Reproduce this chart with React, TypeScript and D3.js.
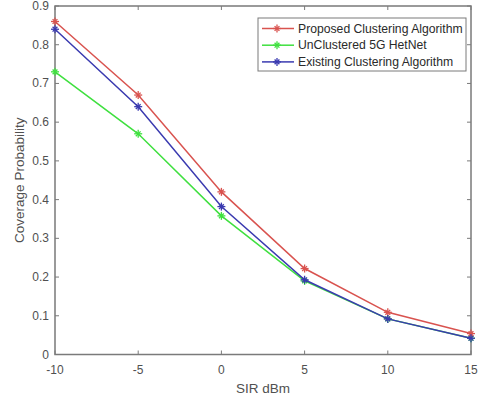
import React, { useRef, useEffect } from 'react';
import * as d3 from 'd3';

const sir = [-10, -5, 0, 5, 10, 15];
const proposed = [0.86, 0.67, 0.42, 0.222, 0.109, 0.054];
const unclustered = [0.73, 0.57, 0.358, 0.19, 0.092, 0.042];
const existing = [0.84, 0.64, 0.382, 0.193, 0.092, 0.042];
const yTicks = [0, 0.1, 0.2, 0.3, 0.4, 0.5, 0.6, 0.7, 0.8, 0.9];

const seriesList = [
  { name: 'Proposed Clustering Algorithm', values: proposed, color: '#d9534f' },
  { name: 'UnClustered 5G HetNet', values: unclustered, color: '#3fe03f' },
  { name: 'Existing Clustering Algorithm', values: existing, color: '#3a3ab0' },
];

const App = () => {
  const ref = useRef<SVGSVGElement>(null);

  useEffect(() => {
    const svg = d3.select(ref.current);
    svg.selectAll('*').remove();
    const font = 'Arial, "Liberation Sans", sans-serif';
    const axisColor = '#7a7a7a';
    const textColor = '#505050';

    const left = 55, right = 471, top = 6, bottom = 354.5;
    const x = d3.scaleLinear().domain([-10, 15]).range([left, right]);
    const y = d3.scaleLinear().domain([0, 0.9]).range([bottom, top]);

    svg.append('rect').attr('width', 484).attr('height', 403).attr('fill', '#fff');

    // box
    svg.append('rect')
      .attr('x', left).attr('y', top)
      .attr('width', right - left).attr('height', bottom - top)
      .attr('fill', 'none').attr('stroke', axisColor).attr('stroke-width', 1.5);

    const g = svg.append('g');
    // ticks
    sir.forEach(v => {
      g.append('line').attr('x1', x(v)).attr('x2', x(v)).attr('y1', bottom).attr('y2', bottom - 4)
        .attr('stroke', axisColor);
      g.append('line').attr('x1', x(v)).attr('x2', x(v)).attr('y1', top).attr('y2', top + 4)
        .attr('stroke', axisColor);
      g.append('text').attr('x', x(v)).attr('y', bottom + 19)
        .attr('text-anchor', 'middle').attr('font-family', font).attr('font-size', 12)
        .attr('fill', textColor).text(v);
    });
    yTicks.forEach(v => {
      g.append('line').attr('x1', left).attr('x2', left + 4).attr('y1', y(v)).attr('y2', y(v))
        .attr('stroke', axisColor);
      g.append('line').attr('x1', right).attr('x2', right - 4).attr('y1', y(v)).attr('y2', y(v))
        .attr('stroke', axisColor);
      g.append('text').attr('x', left - 6).attr('y', y(v) + 4)
        .attr('text-anchor', 'end').attr('font-family', font).attr('font-size', 12)
        .attr('fill', textColor).text(v === 0 ? '0' : v.toFixed(1));
    });

    svg.append('text').attr('x', (left + right) / 2).attr('y', 393)
      .attr('text-anchor', 'middle').attr('font-family', font).attr('font-size', 13.5)
      .attr('fill', textColor).text('SIR dBm');
    svg.append('text').attr('transform', `translate(24,${(top + bottom) / 2}) rotate(-90)`)
      .attr('text-anchor', 'middle').attr('font-family', font).attr('font-size', 13.5)
      .attr('fill', textColor).text('Coverage Probability');

    const line = d3.line<number>().x((d, i) => x(sir[i])).y(d => y(d));

    const star = (sel: any, cx: number, cy: number, color: string) => {
      const r = 4;
      const p = sel.append('g').attr('transform', `translate(${cx},${cy})`)
        .attr('stroke', color).attr('stroke-width', 1.3);
      p.append('line').attr('x1', -r).attr('x2', r).attr('y1', 0).attr('y2', 0);
      p.append('line').attr('x1', 0).attr('x2', 0).attr('y1', -r).attr('y2', r);
      p.append('line').attr('x1', -r * 0.6).attr('x2', r * 0.6).attr('y1', -r * 0.6).attr('y2', r * 0.6);
      p.append('line').attr('x1', -r * 0.6).attr('x2', r * 0.6).attr('y1', r * 0.6).attr('y2', -r * 0.6);
    };

    // draw green first, then red, then blue on top
    [1, 0, 2].forEach(k => {
      const s = seriesList[k];
      svg.append('path').datum(s.values).attr('d', line)
        .attr('fill', 'none').attr('stroke', s.color).attr('stroke-width', 1.5);
      s.values.forEach((v, i) => star(svg, x(sir[i]), y(v), s.color));
    });

    // legend
    const lg = svg.append('g');
    lg.append('rect').attr('x', 258).attr('y', 18).attr('width', 208).attr('height', 53)
      .attr('fill', '#fff').attr('stroke', axisColor);
    seriesList.forEach((s, i) => {
      const ly = 28.5 + i * 16.7;
      lg.append('line').attr('x1', 262).attr('x2', 294).attr('y1', ly).attr('y2', ly)
        .attr('stroke', s.color).attr('stroke-width', 1.5);
      star(lg, 277, ly, s.color);
      lg.append('text').attr('x', 298).attr('y', ly + 4).attr('font-family', font)
        .attr('font-size', 12.2).attr('fill', '#2a2a2a').text(s.name);
    });
  }, []);

  return <svg ref={ref} width={484} height={403} style={{ position: 'absolute', left: 0, top: 0 }} />;
};

export default App;
